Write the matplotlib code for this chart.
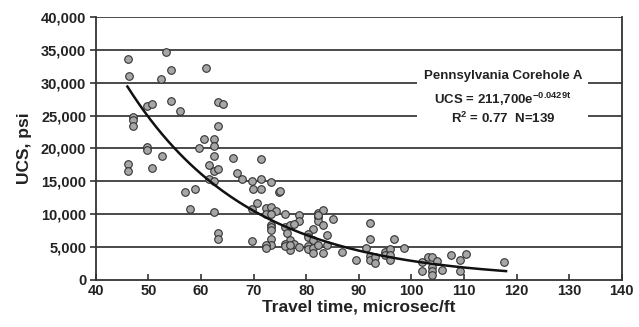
import matplotlib
matplotlib.use("Agg")
import matplotlib.pyplot as plt
from matplotlib.patches import Rectangle
from matplotlib.ticker import FuncFormatter
import numpy as np

plt.rcParams['font.family'] = ['Liberation Sans', 'DejaVu Sans']
plt.rcParams['mathtext.fontset'] = 'custom'
plt.rcParams['mathtext.rm'] = 'Liberation Sans:bold'
plt.rcParams['mathtext.it'] = 'Liberation Sans:bold'
plt.rcParams['mathtext.default'] = 'rm'

# travel time (microsec/ft) and UCS (thousand psi)
travel_time = [
    46.1, 46.3, 53.3, 54.3, 52.4, 60.9,
    49.7, 50.6, 54.3, 56.0, 47.0, 47.0, 47.0, 63.3, 64.2, 63.3,
    60.6, 62.4, 62.4, 59.6, 49.7, 49.7,
    46.1, 46.1, 50.6, 52.5, 61.5, 62.4, 62.4, 63.3, 66.0, 66.9, 67.8, 61.5, 62.4,
    57.0, 58.8, 57.9, 62.4, 63.3, 63.3,
    69.7, 71.4, 71.4, 73.3, 69.9, 71.4, 70.6, 69.7, 72.3, 73.3, 74.2, 74.8, 75.0,
    72.3, 73.3, 73.3, 73.3, 73.3, 73.3, 73.3, 72.3, 72.3, 69.7,
    75.9, 78.6, 78.6, 82.3, 82.3, 82.3, 83.2, 82.3, 85.0, 83.2, 81.3, 84.0,
    75.9, 76.9, 77.7, 76.4, 80.4, 80.4, 81.3, 76.9, 75.9, 77.7, 78.6, 80.4,
    80.4, 81.3, 82.3, 81.3, 83.2, 84.0, 76.9, 75.9, 76.9,
    86.8, 89.4, 91.3, 92.2, 92.2, 92.2, 92.2, 93.1, 93.1, 94.9, 94.9, 95.9,
    95.9, 95.9, 96.7, 98.6,
    102.1, 103.1, 104.0, 104.9, 102.1, 104.0, 104.0, 104.0, 105.8, 107.5,
    109.3, 110.3, 109.3, 117.6,
]
ucs_k = [
    33.6, 31.1, 34.6, 32.0, 30.5, 32.3,
    26.4, 26.8, 27.2, 25.7, 24.8, 24.3, 23.4, 27.1, 26.7, 23.4,
    21.4, 21.4, 20.3, 20.0, 20.2, 19.7,
    17.6, 16.6, 17.1, 18.9, 17.5, 18.8, 16.6, 16.8, 18.6, 16.2, 15.3, 15.4, 15.0,
    13.4, 13.9, 10.8, 10.3, 7.1, 6.3,
    15.0, 18.4, 15.4, 14.9, 13.8, 13.8, 11.7, 10.75, 10.9, 11.15, 10.5, 13.3, 13.5,
    10.1, 10.0, 8.4, 8.0, 7.6, 6.3, 5.3, 5.3, 4.8, 5.9,
    10.1, 9.9, 8.9, 10.2, 9.5, 8.9, 10.65, 9.9, 9.2, 8.4, 7.7, 6.8,
    8.0, 8.3, 8.5, 7.1, 7.0, 6.6, 6.1, 6.0, 5.5, 5.4, 5.0, 5.1,
    4.7, 4.8, 5.3, 4.1, 4.1, 5.3, 4.6, 5.1, 5.3,
    4.2, 3.1, 4.8, 8.6, 6.3, 3.65, 3.0, 3.55, 2.6, 4.3, 3.8, 4.7,
    3.8, 3.0, 6.2, 4.8,
    2.8, 3.5, 3.55, 2.9, 1.3, 2.0, 1.3, 0.8, 1.45, 3.85,
    3.1, 3.9, 1.3, 2.8,
]
ucs = np.array(ucs_k) * 1000

# exponential fit as printed on the chart
fit_a, fit_b = 211700, -0.0429
fit_range = (46, 118)

x_ticks = list(range(40, 141, 10))
y_ticks = list(range(0, 40001, 5000))
note_lines = ["Pennsylvania Corehole A",
              "UCS = 211,700e$^{-0.0429t}$",
              "R$^2$ = 0.77  N=139"]

fig = plt.figure(figsize=(6.39, 3.27), dpi=100)
ax = fig.add_axes([0.150, 0.144, 0.823, 0.804])

ax.set_xlim(40, 140)
ax.set_ylim(0, 40000)
ax.set_xticks(x_ticks)
ax.set_yticks(y_ticks)
ax.yaxis.set_major_formatter(FuncFormatter(lambda v, p: f"{int(v):,}"))

for y in y_ticks[1:]:
    ax.axhline(y, color='#4a4a4a', lw=1.4, zorder=1)

for side in ['left', 'bottom', 'right']:
    ax.spines[side].set_color('#333333')
    ax.spines[side].set_linewidth(1.3)
ax.spines['top'].set_visible(False)

ax.tick_params(axis='x', direction='in', length=4, width=1.2, color='#333333',
               labelsize=10.5, pad=3)
ax.tick_params(axis='y', direction='out', length=4, width=1.2, color='#333333',
               labelsize=10.5, pad=3)
for lbl in ax.get_xticklabels() + ax.get_yticklabels():
    lbl.set_fontweight('bold')
    lbl.set_color('#222222')

ax.scatter(travel_time, ucs, s=30, facecolor='#a6a6a6', edgecolor='#333333',
           linewidth=0.8, zorder=3)

t = np.linspace(fit_range[0], fit_range[1], 200)
ax.plot(t, fit_a * np.exp(fit_b * t), color='#111111', lw=1.8, zorder=4)

# white label box that breaks the grid lines
ax.add_patch(Rectangle((101.0, 22800), 32.5, 10350, facecolor='white',
                       edgecolor='none', zorder=2))
for line, yv in zip(note_lines, [31080, 27500, 24640]):
    ax.text(117.4, yv, line, ha='center', va='center', fontsize=9.5,
            fontweight='bold', color='#222222', zorder=5)

ax.set_xlabel("Travel time, microsec/ft", fontsize=12.5, fontweight='bold',
              color='#222222', labelpad=1)
ax.set_ylabel("UCS, psi", fontsize=12.5, fontweight='bold', color='#222222',
              labelpad=6)

fig.savefig("out.png", dpi=100)
